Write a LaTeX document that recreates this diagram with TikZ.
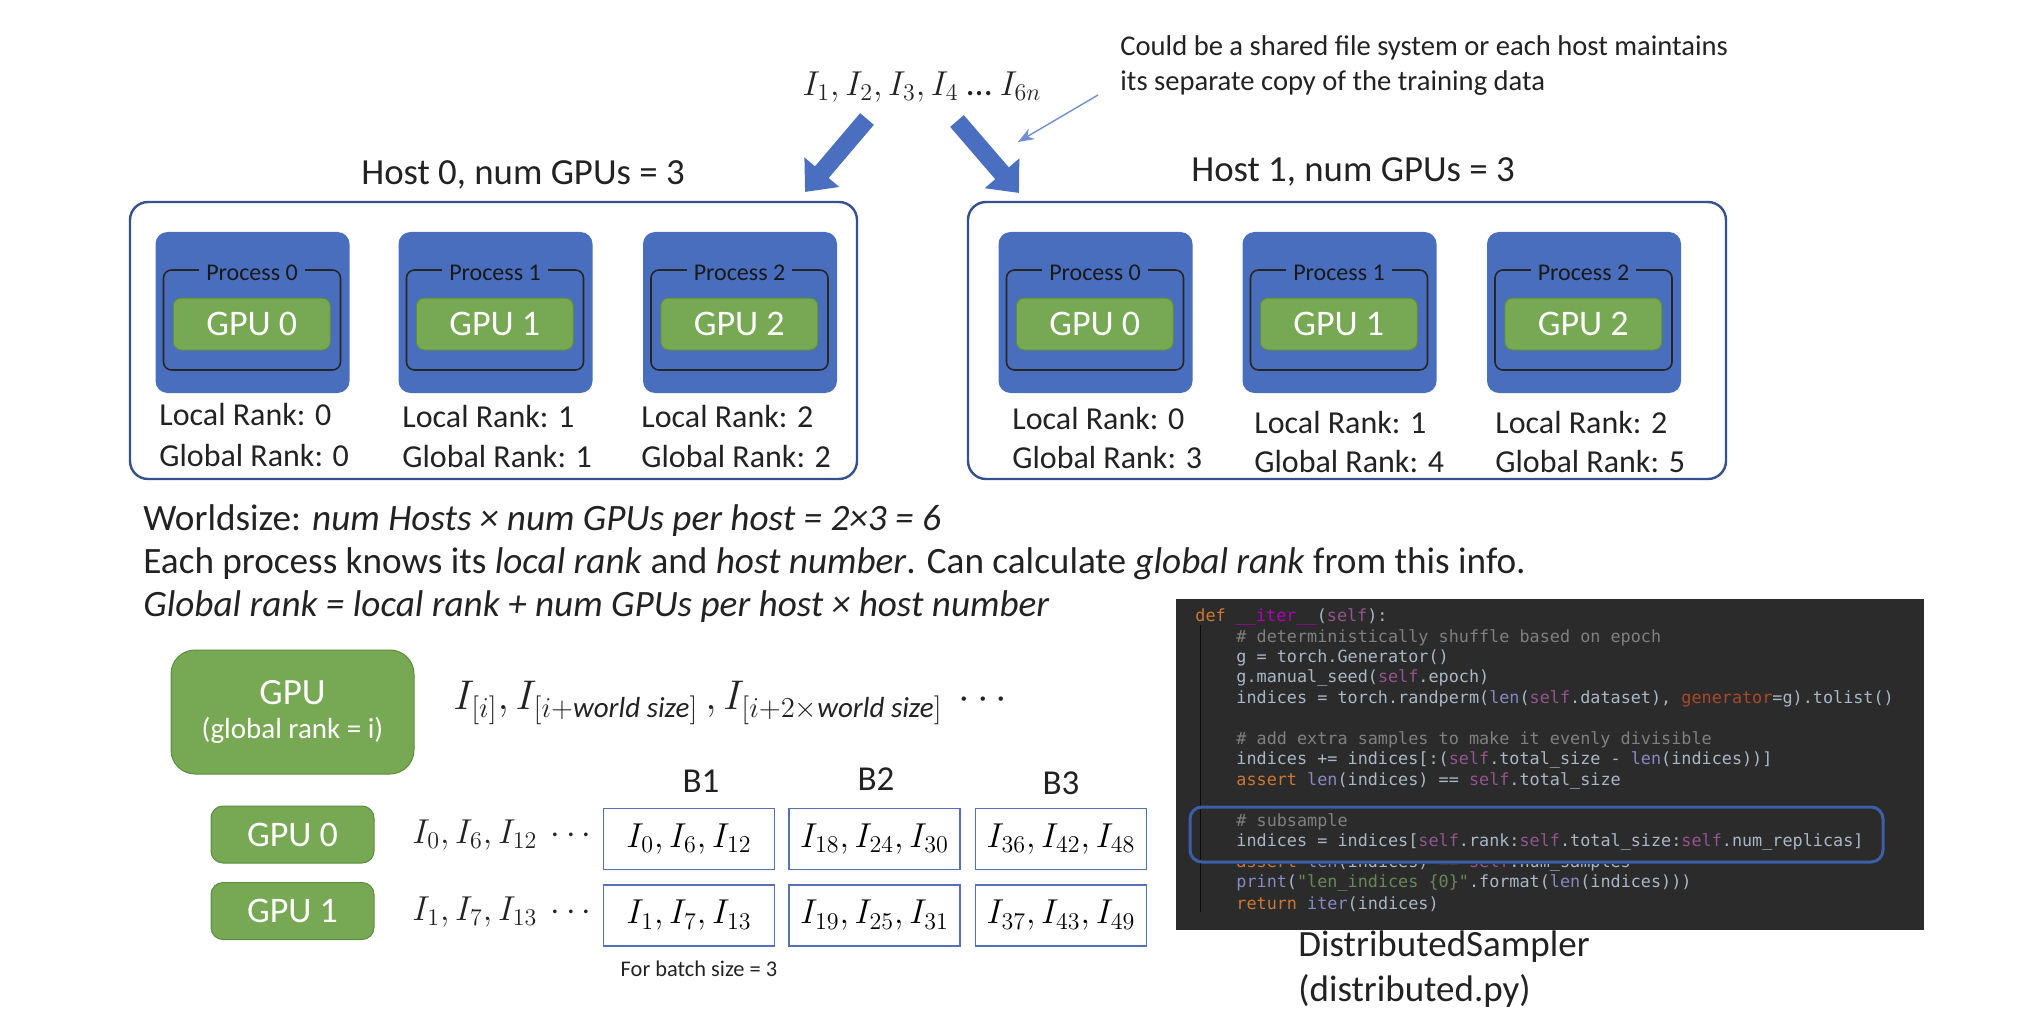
\documentclass[tikz,border=0pt]{standalone}
\usepackage{fontspec}
\setmainfont{Carlito}
\newfontfamily\codefont{DejaVu Sans Mono}
\usetikzlibrary{arrows.meta}
\definecolor{procblue}{HTML}{4A6EBE}
\definecolor{gpugreen}{HTML}{77A853}
\definecolor{gpugreenD}{HTML}{5E8C40}
\definecolor{hostblue}{HTML}{34508E}
\definecolor{arrowblue}{HTML}{4A6EC0}
\definecolor{thinblue}{HTML}{6F8FD0}
\definecolor{batchblue}{HTML}{5670B8}
\definecolor{txt}{HTML}{222222}
\definecolor{codebg}{HTML}{2B2B2B}
\definecolor{codetxt}{HTML}{A9B7C6}
\definecolor{kwc}{HTML}{CC7832}
\definecolor{magc}{HTML}{B200B2}
\definecolor{selfc}{HTML}{94558D}
\definecolor{bic}{HTML}{8888C6}
\definecolor{comc}{HTML}{808080}
\definecolor{strc}{HTML}{6A8759}
\definecolor{parc}{HTML}{AA4926}
\definecolor{hlblue}{HTML}{3D5EA8}
\newcommand\fsz[2]{\fontsize{#1}{#2}\selectfont}
\newcommand\ck[1]{\textcolor{kwc}{#1}}
\newcommand\cm[1]{\textcolor{magc}{#1}}
\newcommand\cs[1]{\textcolor{selfc}{#1}}
\newcommand\cb[1]{\textcolor{bic}{#1}}
\newcommand\cc[1]{\textcolor{comc}{#1}}
\newcommand\cg[1]{\textcolor{strc}{#1}}
\newcommand\cp[1]{\textcolor{parc}{#1}}
\newcommand\wsz{\mbox{\fsz{14.5}{16}\itshape world size}}
\begin{document}
\begin{tikzpicture}[x=0.5pt,y=-0.5pt,
  hostbox/.style={draw=hostblue, line width=1.2pt, rounded corners=9pt, inner sep=0},
  procbox/.style={fill=procblue, rounded corners=6pt, minimum width=97pt, minimum height=80.5pt, inner sep=0},
  procframe/.style={draw=black!85, line width=0.8pt, rounded corners=4pt, minimum width=88.5pt, minimum height=50pt, inner sep=0},
  proclabel/.style={fill=procblue, inner xsep=3.5pt, inner ysep=1pt, font=\fsz{12}{14}, text=black!90},
  gpubox/.style={fill=gpugreen, draw=gpugreenD, line width=0.5pt, rounded corners=4pt, text=white, font=\fsz{18}{20}, minimum width=78.5pt, minimum height=26pt, inner sep=0},
  rank/.style={anchor=west, font=\fsz{16}{18}, inner sep=0, text=txt},
  title/.style={font=\fsz{18.4}{21}, inner sep=0, text=txt},
  body/.style={anchor=west, font=\fsz{18.6}{21}, inner sep=0, text=txt},
  bigarrow/.style={draw=arrowblue, line width=9pt, -{Triangle[width=22pt,length=13pt]}},
  batch/.style={draw=batchblue, line width=0.7pt, minimum width=85.5pt, minimum height=30.5pt, inner sep=0},
  mth/.style={font=\fsz{18}{22}, inner sep=0, text=txt},
  code/.style={anchor=west, font=\codefont\fsz{8.4}{10}, inner sep=0, text=codetxt}
]
\useasboundingbox (0,0) rectangle (2042,1022);

% ---------- top sequence, annotation, arrows
\node[mth] (seq) at (922,87) {$I_1, I_2, I_3, I_4\ \mbox{…}\ I_{6n}$};
\node[anchor=west, font=\fsz{14.3}{17}, inner sep=0, text=txt] (ann1) at (1120,48) {Could be a shared file system or each host maintains};
\node[anchor=west, font=\fsz{14.3}{17}, inner sep=0, text=txt] (ann2) at (1120,83) {its separate copy of the training data};
\coordinate (aL1) at (867,119);
\coordinate (aL2) at (805,192);
\coordinate (aR1) at (957,121);
\coordinate (aR2) at (1019,193);
\draw[bigarrow] (aL1) -- (aL2);
\draw[bigarrow] (aR1) -- (aR2);
\coordinate (tS) at (1098,95);
\coordinate (tT) at (1018,142);
\draw[thinblue, line width=0.7pt, -{Stealth[length=8pt,width=6pt]}] (tS) -- (tT);

% ---------- hosts
\node[title] (h0t) at (523,175) {Host 0, num GPUs = 3};
\node[title] (h1t) at (1353,172) {Host 1, num GPUs = 3};
\node[hostbox, minimum width=363.5pt, minimum height=138.5pt] (h0) at (493.5,340.5) {};
\node[hostbox, minimum width=379pt, minimum height=138.5pt] (h1) at (1347,340.5) {};

\foreach \n/\cx/\lab in {p00/252.5/0, p01/495.5/1, p02/740/2, p10/1095.5/0, p11/1339.5/1, p12/1584/2}{
  \node[procbox] (\n) at (\cx,312.5) {};
  \node[procframe] (\n f) at (\cx-0.5,320) {};
  \node[proclabel] (\n l) at (\cx-0.5,273) {Process \lab};
  \node[gpubox] (\n g) at (\cx-0.7,324) {GPU \lab};
}

\node[rank] (lr00) at (159,415) {Local Rank: 0};
\node[rank] (gr00) at (159,456) {Global Rank: 0};
\node[rank] (lr01) at (402,417) {Local Rank: 1};
\node[rank] (gr01) at (402,457) {Global Rank: 1};
\node[rank] (lr02) at (641,417) {Local Rank: 2};
\node[rank] (gr02) at (641,457) {Global Rank: 2};
\node[rank] (lr10) at (1012,419) {Local Rank: 0};
\node[rank] (gr10) at (1012,458) {Global Rank: 3};
\node[rank] (lr11) at (1254,423) {Local Rank: 1};
\node[rank] (gr11) at (1254,462) {Global Rank: 4};
\node[rank] (lr12) at (1495,423) {Local Rank: 2};
\node[rank] (gr12) at (1495,462) {Global Rank: 5};

% ---------- explanation text
\node[body] (w1) at (143,521) {Worldsize: \textit{num Hosts × num GPUs per host = 2×3 = 6}};
\node[body] (w2) at (143,564) {Each process knows its \textit{local rank} and \textit{host number}. Can calculate \textit{global rank} from this info.};
\node[body] (w3) at (143,607) {\textit{Global rank = local rank + num GPUs per host × host number}};

% ---------- bottom left
\node[fill=gpugreen, draw=gpugreenD, line width=0.5pt, rounded corners=12pt, minimum width=121.5pt, minimum height=62pt, text=white, align=center, inner sep=0] (gbig) at (292.5,712)
  {\fsz{18.5}{22}GPU\\[5pt]\fsz{14.5}{17}(global rank = i)};
\node[mth, anchor=west, font=\fsz{20}{23}] (expr) at (453,703)
  {$I_{[i]}, I_{[i+\wsz]}\,, I_{[i+2\times\wsz]}\ \cdots$};

\node[gpubox, rounded corners=6pt, minimum width=81.5pt, minimum height=28.5pt] (g0) at (292.5,834.5) {GPU 0};
\node[gpubox, rounded corners=6pt, minimum width=81.5pt, minimum height=28.5pt] (g1) at (292.5,911) {GPU 1};
\node[mth, anchor=west, font=\fsz{17}{20}] (s0) at (412,835) {$I_0, I_6, I_{12}\ \cdots$};
\node[mth, anchor=west, font=\fsz{17}{20}] (s1) at (412,912) {$I_1, I_7, I_{13}\ \cdots$};

\node[title, font=\fsz{17.5}{20}] (b1) at (701,781) {B1};
\node[title, font=\fsz{17.5}{20}] (b2) at (876,779) {B2};
\node[title, font=\fsz{17.5}{20}] (b3) at (1061,783) {B3};

\node[batch, font=\fsz{17.5}{20}] (r1c1) at (689,839) {$I_0, I_6, I_{12}$};
\node[batch, font=\fsz{17.5}{20}] (r1c2) at (874.5,839) {$I_{18}, I_{24}, I_{30}$};
\node[batch, font=\fsz{17.5}{20}] (r1c3) at (1061,839) {$I_{36}, I_{42}, I_{48}$};
\node[batch, font=\fsz{17.5}{20}] (r2c1) at (689,915.5) {$I_1, I_7, I_{13}$};
\node[batch, font=\fsz{17.5}{20}] (r2c2) at (874.5,915.5) {$I_{19}, I_{25}, I_{31}$};
\node[batch, font=\fsz{17.5}{20}] (r2c3) at (1061,915.5) {$I_{37}, I_{43}, I_{49}$};
\node[font=\fsz{11.2}{13}, inner sep=0, text=txt] (bs) at (699,969) {For batch size = 3};

% ---------- code screenshot
\node[fill=codebg, minimum width=374pt, minimum height=165.5pt, inner sep=0] (codebox) at (1550,764.5) {};
\draw[black!72!codebg, line width=0.5pt] (1200,625) -- (1200,912);
\node[code] (c1) at (1195,617) {\ck{def} \cm{\_\_iter\_\_}(\cs{self}):};
\node[code] (c2) at (1236,637.5) {\cc{\# deterministically shuffle based on epoch}};
\node[code] (c3) at (1236,658) {g = torch.Generator()};
\node[code] (c4) at (1236,678.5) {g.manual\_seed(\cs{self}.epoch)};
\node[code] (c5) at (1236,699) {indices = torch.randperm(\cb{len}(\cs{self}.dataset), \cp{generator}=g).tolist()};
\node[code] (c7) at (1236,740) {\cc{\# add extra samples to make it evenly divisible}};
\node[code] (c8) at (1236,760.5) {indices += indices[:(\cs{self}.total\_size - \cb{len}(indices))]};
\node[code] (c9) at (1236,781) {\ck{assert} \cb{len}(indices) == \cs{self}.total\_size};
\node[code] (c11) at (1236,822) {\cc{\# subsample}};
\node[code] (c12) at (1236,842.5) {indices = indices[\cs{self}.rank:\cs{self}.total\_size:\cs{self}.num\_replicas]};
\begin{scope}
\clip (1176,864) rectangle (1924,880);
\node[code] (c13) at (1236,863) {\ck{assert} \cb{len}(indices) == \cs{self}.num\_samples};
\end{scope}
\node[code] (c14) at (1236,883.5) {\cb{print}(\cg{"len\_indices \{0\}"}.format(\cb{len}(indices)))};
\node[code] (c15) at (1236,904) {\ck{return} \cb{iter}(indices)};
\node[draw=hlblue, line width=1.5pt, rounded corners=6pt, minimum width=346.5pt, minimum height=27.5pt, inner sep=0] (hl) at (1536.5,834.5) {};

\node[body, font=\fsz{18.5}{22}] (ds1) at (1298,947) {DistributedSampler};
\node[body, font=\fsz{18.5}{22}] (ds2) at (1298,991) {(distributed.py)};
\end{tikzpicture}
\end{document}
